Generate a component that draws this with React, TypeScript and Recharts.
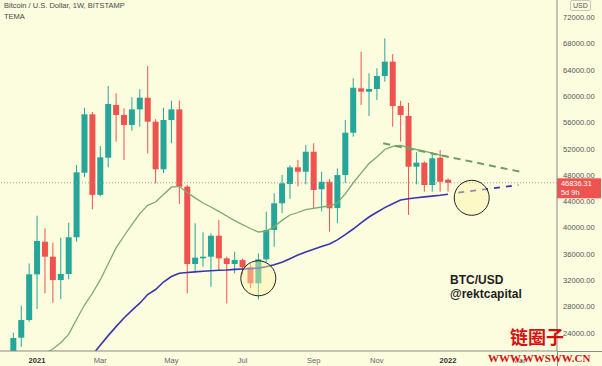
import { ComposedChart, Bar, Line, XAxis, YAxis, ReferenceLine, ReferenceDot } from "recharts";

// weekly candles, Bitstamp BTC/USD (week start)
const weeks = [
  "2020-12-14", "2020-12-21", "2020-12-28", "2021-01-04", "2021-01-11", "2021-01-18", "2021-01-25",
  "2021-02-01", "2021-02-08", "2021-02-15", "2021-02-22", "2021-03-01", "2021-03-08", "2021-03-15",
  "2021-03-22", "2021-03-29", "2021-04-05", "2021-04-12", "2021-04-19", "2021-04-26", "2021-05-03",
  "2021-05-10", "2021-05-17", "2021-05-24", "2021-05-31", "2021-06-07", "2021-06-14", "2021-06-21",
  "2021-06-28", "2021-07-05", "2021-07-12", "2021-07-19", "2021-07-26", "2021-08-02", "2021-08-09",
  "2021-08-16", "2021-08-23", "2021-08-30", "2021-09-06", "2021-09-13", "2021-09-20", "2021-09-27",
  "2021-10-04", "2021-10-11", "2021-10-18", "2021-10-25", "2021-11-01", "2021-11-08", "2021-11-15",
  "2021-11-22", "2021-11-29", "2021-12-06", "2021-12-13", "2021-12-20", "2021-12-27", "2022-01-03",
];

const opens = [19150, 23280, 25970, 32920, 37880, 35600, 32050, 32970, 38550, 48370, 57250, 45000, 50650, 58670, 57150, 55630, 58000, 59780, 56130, 48890, 56380, 58000, 46250, 34490, 35350, 35600, 38790, 35350, 34490, 35100, 33990, 31550, 35200, 39660, 43720, 46650, 49190, 48520, 51560, 45850, 47000, 43000, 48020, 54450, 61200, 60690, 61100, 63070, 65250, 58510, 57000, 49290, 49900, 46500, 50650, 47300];
const highs = [24040, 28150, 34590, 41830, 39920, 37730, 38490, 40770, 49540, 58250, 57600, 52430, 61560, 60440, 58150, 59840, 61050, 64600, 56500, 58250, 59330, 59330, 46500, 40680, 39310, 39160, 41180, 35600, 36360, 35300, 34500, 36100, 42440, 45240, 48020, 49500, 50300, 52580, 52840, 48520, 47400, 49030, 56400, 62720, 66770, 63480, 64250, 68800, 66400, 59300, 59000, 51500, 50100, 51410, 51820, 47520];
const lows = [18900, 21910, 25720, 27650, 30030, 28600, 29160, 32160, 37880, 47760, 42810, 44800, 49190, 53090, 50300, 54760, 55370, 51320, 46760, 48300, 52840, 43620, 30030, 33320, 34080, 31040, 33470, 28510, 33080, 32900, 30790, 29120, 34800, 37120, 42200, 44400, 46300, 46600, 43000, 42500, 39400, 40680, 46800, 53850, 58670, 57000, 59430, 62210, 55370, 53090, 41950, 46600, 45480, 45480, 45480, 45480];
const closes = [23240, 25970, 32920, 37990, 35600, 32050, 32970, 38550, 48430, 57250, 45000, 50710, 58820, 57150, 55630, 58000, 59780, 56130, 48890, 56380, 58000, 46250, 34490, 35450, 35600, 38790, 35350, 34490, 35100, 33990, 31550, 35200, 39660, 43720, 46760, 49190, 48520, 51560, 45740, 47000, 42960, 48020, 54450, 61290, 60690, 61100, 63070, 65250, 58510, 57150, 49290, 49900, 46500, 50560, 47000, 46836];

// moving averages
const greenMa = [null, null, null, null, 20880, 21565, 22520, 23785, 26050, 28255, 30004, 32070, 34500, 36940, 38750, 40495, 42150, 43415, 43915, 45070, 46165, 46300, 45360, 44540, 43765, 43155, 42500, 41790, 41090, 40480, 39890, 39355, 39505, 40175, 41120, 41940, 42320, 42760, 42960, 43155, 43310, 43765, 45150, 46805, 48310, 49770, 50760, 51900, 52385, 52510, 52200, 51900, 51640, 51365, 51060, 50800];
const blueMa = [null, null, null, null, null, null, null, null, null, null, 20650, 22130, 23600, 24970, 26280, 27450, 28530, 29850, 30610, 31750, 32590, 33090, 33210, 33300, 33380, 33455, 33530, 33590, 33680, 33740, 33790, 33865, 34080, 34380, 34760, 35295, 35860, 36315, 36725, 37135, 37545, 38155, 38945, 39810, 40755, 41635, 42365, 43065, 43660, 44235, 44400, 44555, 44690, 44815, 44935, 45090];

const tickIdx = [3, 11, 20, 29, 38, 46, 55, 64];
const tickLabels = ["2021", "Mar", "May", "Jul", "Sep", "Nov", "2022", "Mar"];
const priceTicks = [24000, 28000, 32000, 36000, 40000, 44000, 48000, 52000, 56000, 60000, 64000, 68000, 72000];
const lastPrice = 46836.31;

// drawn trendlines and circles
const greenTrend = [{ x: 46.8, y: 52840 }, { x: 64.1, y: 48525 }];
const blueTrend = [{ x: 56.3, y: 45330 }, { x: 63.9, y: 46500 }];
const circles = [{ x: 31, y: 32315 }, { x: 58, y: 44555 }];

const rows = weeks.map((w, i) => ({
  i,
  week: w,
  open: opens[i],
  high: highs[i],
  low: lows[i],
  close: closes[i],
  green: greenMa[i],
  blue: blueMa[i],
}));

const UP = "#26a69a";
const DOWN = "#ef5350";
const BG = "#fcfcdf";
const FONT = "'Liberation Sans', Arial, sans-serif";

const Candle = (props: any) => {
  let { x, y, width, height, payload } = props;
  if (height < 0) {
    y += height;
    height = -height;
  }
  const { open, close, high, low } = payload;
  const color = close >= open ? UP : DOWN;
  const k = height / (high - low);
  const top = y + (high - Math.max(open, close)) * k;
  const bot = y + (high - Math.min(open, close)) * k;
  const cx = x + width / 2;
  return (
    <g>
      <line x1={cx} x2={cx} y1={y} y2={y + height} stroke={color} strokeWidth={1} />
      <rect x={x} y={top} width={width} height={Math.max(1, bot - top)} fill={color} />
    </g>
  );
};

const XTick = (props: any) => {
  const { x, y, payload } = props;
  const label = tickLabels[tickIdx.indexOf(payload.value)];
  const year = label === "2021" || label === "2022";
  return (
    <text x={x} y={y + 8} textAnchor="middle" fontSize={7.6} fontFamily={FONT}
      fill={year ? "#333" : "#666"} fontWeight={year ? "bold" : "normal"}>
      {label}
    </text>
  );
};

const PriceTag = (props: any) => {
  const { viewBox } = props;
  const x0 = viewBox.x + viewBox.width;
  const y0 = viewBox.y;
  return (
    <g>
      <rect x={x0} y={y0 - 4.5} width={44} height={20} fill={DOWN} />
      <text x={x0 + 4} y={y0 + 2.8} fontSize={7.4} fontFamily={FONT} fill="#fff">46836.31</text>
      <text x={x0 + 4} y={y0 + 11.8} fontSize={7.4} fontFamily={FONT} fill="#fff">5d 9h</text>
    </g>
  );
};

export default function App() {
  return (
    <div style={{ position: "absolute", left: 0, top: 0, width: 602, height: 366, background: BG, overflow: "hidden", fontFamily: FONT }}>
      <ComposedChart width={602} height={366} data={rows} margin={{ top: 0, right: 0, bottom: 0, left: 0 }}>
        <XAxis dataKey="i" type="number" domain={[-1.683, 68.79]} allowDataOverflow ticks={tickIdx}
          interval={0} tick={<XTick />} tickSize={0} tickMargin={4} height={15}
          axisLine={{ stroke: "#8a8a80" }} />
        <YAxis orientation="right" domain={[21263, 74630]} allowDataOverflow ticks={priceTicks}
          width={45} tickSize={0} tickMargin={6} tickFormatter={(v: number) => v.toFixed(2)}
          tick={{ fontSize: 7.6, fill: "#555", fontFamily: FONT }} axisLine={{ stroke: "#8a8a80" }} />
        <ReferenceLine y={lastPrice} stroke="#a0a090" strokeDasharray="1 2" label={<PriceTag />} />
        <Bar dataKey={(d: any) => [d.low, d.high]} shape={<Candle />} barSize={6} isAnimationActive={false} />
        <Line dataKey="green" type="linear" stroke="#7bab6e" strokeWidth={1.3} dot={false} isAnimationActive={false} />
        <Line dataKey="blue" type="linear" stroke="#3636b2" strokeWidth={1.6} dot={false} isAnimationActive={false} />
        <ReferenceLine segment={greenTrend} stroke="#6f9f62" strokeWidth={2} strokeDasharray="7 5" />
        <ReferenceLine segment={blueTrend} stroke="#3636b2" strokeWidth={1.8} strokeDasharray="6 6" />
        {circles.map((c, k) => (
          <ReferenceDot key={k} x={c.x} y={c.y} r={17.5} fill="#fff6a8" fillOpacity={0.45} stroke="#222" strokeWidth={1} />
        ))}
      </ComposedChart>
      <div style={{ position: "absolute", left: 557, top: 351, width: 1, height: 15, background: "#8a8a80" }} />
      <div style={{ position: "absolute", left: 557, top: 351, width: 45, height: 1, background: "#8a8a80" }} />
      <div style={{ position: "absolute", left: 4, top: 0, fontSize: 7.5, lineHeight: "11px", color: "#4a4a4a" }}>
        Bitcoin / U.S. Dollar, 1W, BITSTAMP<br />TEMA
      </div>
      <div style={{ position: "absolute", left: 570, top: 0, fontSize: 7, lineHeight: "9px", color: "#555", border: "1px solid #c8c8b8", borderRadius: 2, padding: "0 2px" }}>USD</div>
      <div style={{ position: "absolute", left: 450, top: 273, fontSize: 12, lineHeight: "14px", fontWeight: "bold", color: "#1e1e1e" }}>
        BTC/USD<br />@rektcapital
      </div>
      <div style={{ position: "absolute", left: 510, top: 326, fontSize: 18, lineHeight: "20px", fontWeight: "bold", color: "#d6100f", fontFamily: "'Noto Sans CJK SC', sans-serif" }}>链圈子</div>
      <div style={{ position: "absolute", left: 488, top: 352, fontSize: 11, lineHeight: "13px", fontWeight: "bold", color: "#d6100f", fontFamily: "'Liberation Serif', serif" }}>WWW.WWSWW.CN</div>
    </div>
  );
}
